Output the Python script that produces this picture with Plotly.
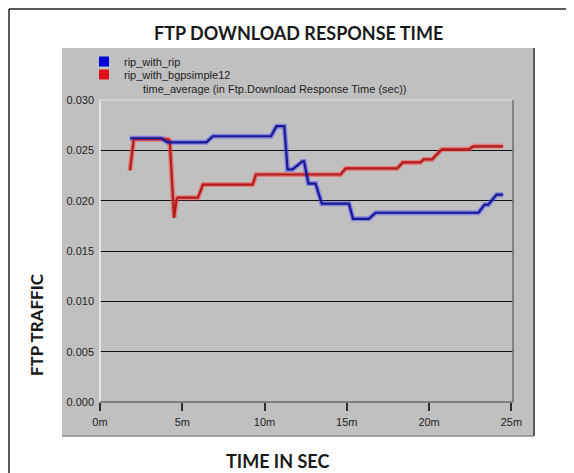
import plotly.graph_objects as go

# ---------------- data ----------------
series_names = ["rip_with_rip", "rip_with_bgpsimple12"]

rip_time_min = [1.82, 3.73, 4.10, 6.46, 6.86, 10.39, 10.73, 11.20, 11.40, 11.70,
                12.30, 12.40, 12.67, 13.10, 13.48, 15.13, 15.38, 16.34, 16.75,
                23.00, 23.37, 23.60, 24.10, 24.50]
rip_values = [0.0262, 0.0262, 0.0258, 0.0258, 0.0264, 0.0264, 0.0274, 0.0274, 0.0231, 0.0231,
              0.0239, 0.0239, 0.0217, 0.0217, 0.0197, 0.0197, 0.0182, 0.0182, 0.0188,
              0.0188, 0.0196, 0.0196, 0.0206, 0.0206]

bgp_time_min = [1.82, 2.05, 4.14, 4.24, 4.44, 4.50, 4.65, 4.72, 5.95, 6.26, 9.28, 9.48,
                14.63, 14.93, 18.06, 18.40, 19.47, 19.67, 20.18, 20.78, 22.40, 22.70, 24.50]
bgp_values = [0.0230, 0.0261, 0.0261, 0.0259, 0.0201, 0.0183, 0.0201, 0.0203, 0.0203, 0.0216, 0.0216, 0.0226,
              0.0226, 0.0232, 0.0232, 0.0238, 0.0238, 0.0241, 0.0241, 0.0251, 0.0251, 0.0254, 0.0254]

x_tick_vals = [0, 5, 10, 15, 20, 25]
x_tick_text = ["0m", "5m", "10m", "15m", "20m", "25m"]
y_tick_vals = [0.0, 0.005, 0.010, 0.015, 0.020, 0.025, 0.030]
y_tick_text = ["0.000", "0.005", "0.010", "0.015", "0.020", "0.025", "0.030"]

# ---------------- layout geometry ----------------
# The page body has an 8px margin, so the figure is 8px smaller than the window
# and every page coordinate below is converted relative to the plot area.
OFF = 8
W, H = 574 - OFF, 473 - OFF
L, R, T, B = 100, 513, 100, 402   # plot area, page pixels


def px(x):
    return (x - L) / (R - L)


def py(y):
    return (B - y) / (B - T)


GRAY = "#c0c0c0"
TICK_FONT = dict(family="Liberation Sans, Arial, sans-serif", size=11, color="#1e1e1e")
HEAD_FONT = dict(family="Lato, Open Sans, sans-serif", size=18, color="#1a1a1a")

fig = go.Figure()

# glow underlays
fig.add_trace(go.Scatter(x=bgp_time_min, y=bgp_values, mode="lines", showlegend=False,
                         hoverinfo="skip", line=dict(color="rgba(255,70,70,0.55)", width=5)))
fig.add_trace(go.Scatter(x=rip_time_min, y=rip_values, mode="lines", showlegend=False,
                         hoverinfo="skip", line=dict(color="rgba(70,70,255,0.5)", width=5)))
# core lines
fig.add_trace(go.Scatter(x=bgp_time_min, y=bgp_values, mode="lines", name=series_names[1],
                         showlegend=False, line=dict(color="#b01c1c", width=2.2)))
fig.add_trace(go.Scatter(x=rip_time_min, y=rip_values, mode="lines", name=series_names[0],
                         showlegend=False, line=dict(color="#1a1a90", width=2.2)))
# legend entries (square swatches), one legend each for exact row spacing
fig.add_trace(go.Scatter(x=[None], y=[None], mode="markers", name=series_names[0],
                         legend="legend",
                         marker=dict(symbol="square", size=10, color="#0000dd")))
fig.add_trace(go.Scatter(x=[None], y=[None], mode="markers", name=series_names[1],
                         legend="legend2",
                         marker=dict(symbol="square", size=10, color="#e0101a")))

shapes = [
    # outer frame (left and top edges)
    dict(type="line", xref="paper", yref="paper", x0=px(9), x1=px(9), y0=py(490), y1=py(9),
         line=dict(color="#222222", width=1.5), layer="below"),
    dict(type="line", xref="paper", yref="paper", x0=px(9), x1=px(590), y0=py(9), y1=py(9),
         line=dict(color="#222222", width=1.5), layer="below"),
    # gray panel
    dict(type="rect", xref="paper", yref="paper", x0=px(62), x1=px(534), y0=py(436), y1=py(48),
         fillcolor=GRAY, line=dict(width=0), layer="below"),
    dict(type="line", xref="paper", yref="paper", x0=px(534), x1=px(534), y0=py(436), y1=py(48),
         line=dict(color="#5a5a5a", width=2), layer="below"),
    dict(type="line", xref="paper", yref="paper", x0=px(62), x1=px(534), y0=py(436), y1=py(436),
         line=dict(color="#8a8a8a", width=1.5), layer="below"),
    # plot area bevel edges
    dict(type="line", xref="paper", yref="paper", x0=0, x1=0, y0=0, y1=1,
         line=dict(color="#f2f2f2", width=1.5), layer="above"),
    dict(type="line", xref="paper", yref="paper", x0=0, x1=1, y0=1, y1=1,
         line=dict(color="#d8d8d8", width=1.5), layer="above"),
    dict(type="line", xref="paper", yref="paper", x0=1, x1=1, y0=0, y1=1,
         line=dict(color="#707070", width=1.5), layer="above"),
    dict(type="line", xref="paper", yref="paper", x0=0, x1=1, y0=0, y1=0,
         line=dict(color="#6a6a6a", width=1.5), layer="above"),
]

annotations = [
    dict(text="<b>FTP DOWNLOAD RESPONSE TIME</b>", xref="paper", yref="paper",
         x=px(298), y=py(33), xanchor="center", yanchor="middle", showarrow=False,
         font=HEAD_FONT),
    dict(text="time_average (in Ftp.Download Response Time (sec))", xref="paper", yref="paper",
         x=px(275), y=py(89), xanchor="center", yanchor="middle", showarrow=False,
         font=TICK_FONT),
    dict(text="<b>TIME IN SEC</b>", xref="paper", yref="paper",
         x=px(277), y=py(461), xanchor="center", yanchor="middle", showarrow=False,
         font=HEAD_FONT),
    dict(text="<b>FTP TRAFFIC</b>", xref="paper", yref="paper", textangle=-90,
         x=px(36), y=py(325), xanchor="center", yanchor="middle", showarrow=False,
         font=dict(HEAD_FONT, size=17)),
]

legend_common = dict(xanchor="left", yanchor="top", bgcolor="rgba(0,0,0,0)",
                     borderwidth=0, font=TICK_FONT, itemwidth=30)

fig.update_layout(
    width=W, height=H,
    margin=dict(l=L - OFF, r=W - (R - OFF), t=T - OFF, b=H - (B - OFF), pad=0),
    paper_bgcolor="white",
    plot_bgcolor=GRAY,
    shapes=shapes,
    annotations=annotations,
    showlegend=True,
    legend=dict(legend_common, x=px(84), y=py(47)),
    legend2=dict(legend_common, x=px(84), y=py(60)),
    xaxis=dict(range=[0, 25.1], tickvals=x_tick_vals, ticktext=x_tick_text,
               showgrid=False, zeroline=False, showline=False,
               ticks="outside", ticklen=8, tickwidth=1.5, tickcolor="#303030",
               tickfont=TICK_FONT, ticklabelstandoff=2),
    yaxis=dict(range=[0, 0.030], tickvals=y_tick_vals, ticktext=y_tick_text,
               showgrid=True, gridcolor="#111111", gridwidth=1, zeroline=False, showline=False,
               ticks="", tickfont=TICK_FONT, ticklabelstandoff=5),
)

fig.write_html("out.html")
